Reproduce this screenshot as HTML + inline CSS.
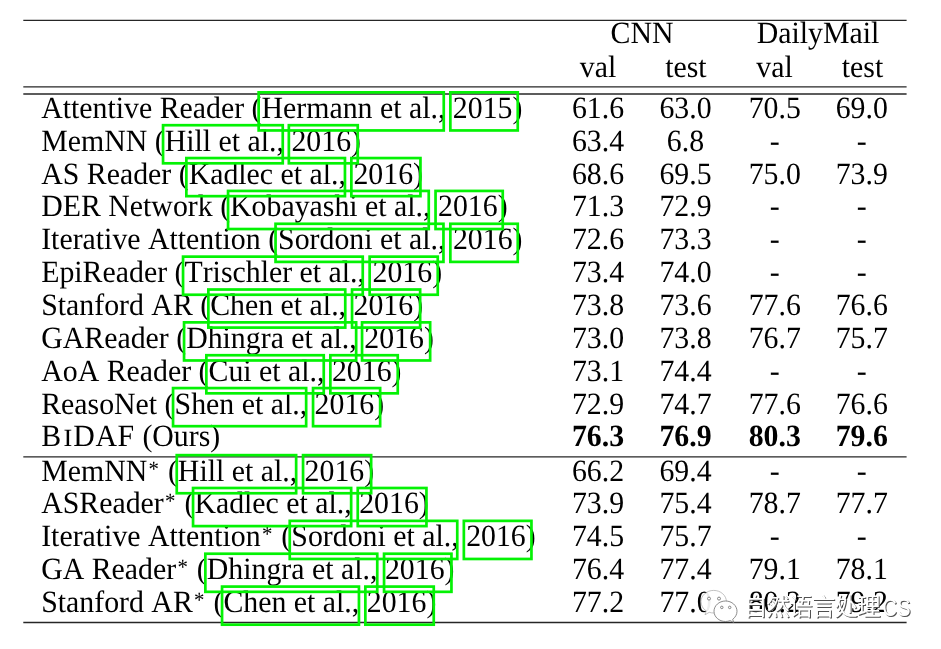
<!DOCTYPE html>
<html><head><meta charset="utf-8"><title>table</title>
<style>
html,body{margin:0;padding:0;background:#fff;}
body{width:941px;height:649px;position:relative;overflow:hidden;font-family:"Liberation Serif",serif;color:#000;font-kerning:none;}
.t,.n{position:absolute;white-space:nowrap;font-size:29.83px;line-height:30px;height:30px;text-rendering:geometricPrecision;transform:scaleY(1.035);transform-origin:0 24px;}
.n{width:120px;margin-left:-60px;text-align:center;}
.b{font-weight:bold;}
svg{position:absolute;left:0;top:0;}
sup{font-size:0.7em;vertical-align:baseline;position:relative;top:-0.25em;line-height:0;margin:0 1.6px 0 1.2px;}
.sc{font-size:0.8em;display:inline-block;margin:0 1.5px 0 2.6px;transform:scaleX(1.1);}
</style></head><body>
<div id="L" style="position:absolute;left:0;top:0;width:941px;height:649px;will-change:transform">

<div class="n" style="left:642px;top:19.00px">CNN</div>
<div class="n" style="left:818px;top:19.00px;width:200px;margin-left:-100px">DailyMail</div>
<div class="n" style="left:598px;top:53.00px;font-kerning:normal">val</div>
<div class="n" style="left:685.9px;top:53.00px;font-kerning:normal">test</div>
<div class="n" style="left:774.5px;top:53.00px;font-kerning:normal">val</div>
<div class="n" style="left:862.5px;top:53.00px;font-kerning:normal">test</div>
<div class="t" style="left:41.2px;top:94.00px">Attentive Reader (<span id="a0">Hermann et al.,</span> <span id="y0">2015</span>)</div>
<div class="n" style="left:598px;top:94.00px">61.6</div>
<div class="n" style="left:685.5px;top:94.00px">63.0</div>
<div class="n" style="left:774.8px;top:94.00px">70.5</div>
<div class="n" style="left:861.8px;top:94.00px">69.0</div>
<div class="t" style="left:41.2px;top:127.00px">MemNN (<span id="a1">Hill et al.,</span> <span id="y1">2016</span>)</div>
<div class="n" style="left:598px;top:127.00px">63.4</div>
<div class="n" style="left:685.5px;top:127.00px">6.8</div>
<div class="n" style="left:774.8px;top:127.00px">-</div>
<div class="n" style="left:861.8px;top:127.00px">-</div>
<div class="t" style="left:41.2px;top:160.00px">AS Reader (<span id="a2">Kadlec et al.,</span> <span id="y2">2016</span>)</div>
<div class="n" style="left:598px;top:160.00px">68.6</div>
<div class="n" style="left:685.5px;top:160.00px">69.5</div>
<div class="n" style="left:774.8px;top:160.00px">75.0</div>
<div class="n" style="left:861.8px;top:160.00px">73.9</div>
<div class="t" style="left:41.2px;top:192.00px">DER Network (<span id="a3">Kobayashi et al.,</span> <span id="y3">2016</span>)</div>
<div class="n" style="left:598px;top:192.00px">71.3</div>
<div class="n" style="left:685.5px;top:192.00px">72.9</div>
<div class="n" style="left:774.8px;top:192.00px">-</div>
<div class="n" style="left:861.8px;top:192.00px">-</div>
<div class="t" style="left:41.2px;top:225.00px">Iterative Attention (<span id="a4">Sordoni et al.,</span> <span id="y4">2016</span>)</div>
<div class="n" style="left:598px;top:225.00px">72.6</div>
<div class="n" style="left:685.5px;top:225.00px">73.3</div>
<div class="n" style="left:774.8px;top:225.00px">-</div>
<div class="n" style="left:861.8px;top:225.00px">-</div>
<div class="t" style="left:41.2px;top:258.00px">EpiReader (<span id="a5">Trischler et al.,</span> <span id="y5">2016</span>)</div>
<div class="n" style="left:598px;top:258.00px">73.4</div>
<div class="n" style="left:685.5px;top:258.00px">74.0</div>
<div class="n" style="left:774.8px;top:258.00px">-</div>
<div class="n" style="left:861.8px;top:258.00px">-</div>
<div class="t" style="left:41.2px;top:291.00px">Stanford AR (<span id="a6">Chen et al.,</span> <span id="y6">2016</span>)</div>
<div class="n" style="left:598px;top:291.00px">73.8</div>
<div class="n" style="left:685.5px;top:291.00px">73.6</div>
<div class="n" style="left:774.8px;top:291.00px">77.6</div>
<div class="n" style="left:861.8px;top:291.00px">76.6</div>
<div class="t" style="left:41.2px;top:324.00px">GAReader (<span id="a7">Dhingra et al.,</span> <span id="y7">2016</span>)</div>
<div class="n" style="left:598px;top:324.00px">73.0</div>
<div class="n" style="left:685.5px;top:324.00px">73.8</div>
<div class="n" style="left:774.8px;top:324.00px">76.7</div>
<div class="n" style="left:861.8px;top:324.00px">75.7</div>
<div class="t" style="left:41.2px;top:357.00px">AoA Reader (<span id="a8">Cui et al.,</span> <span id="y8">2016</span>)</div>
<div class="n" style="left:598px;top:357.00px">73.1</div>
<div class="n" style="left:685.5px;top:357.00px">74.4</div>
<div class="n" style="left:774.8px;top:357.00px">-</div>
<div class="n" style="left:861.8px;top:357.00px">-</div>
<div class="t" style="left:41.2px;top:390.00px">ReasoNet (<span id="a9">Shen et al.,</span> <span id="y9">2016</span>)</div>
<div class="n" style="left:598px;top:390.00px">72.9</div>
<div class="n" style="left:685.5px;top:390.00px">74.7</div>
<div class="n" style="left:774.8px;top:390.00px">77.6</div>
<div class="n" style="left:861.8px;top:390.00px">76.6</div>
<div class="t" style="left:41.2px;top:422.00px">B<span class="sc">I</span><span style="letter-spacing:.7px">DAF</span> (Ours)</div>
<div class="n b" style="left:598px;top:422.00px">76.3</div>
<div class="n b" style="left:685.5px;top:422.00px">76.9</div>
<div class="n b" style="left:774.8px;top:422.00px">80.3</div>
<div class="n b" style="left:861.8px;top:422.00px">79.6</div>
<div class="t" style="left:41.2px;top:457.00px">MemNN<sup>*</sup> (<span id="a11">Hill et al.,</span> <span id="y11">2016</span>)</div>
<div class="n" style="left:598px;top:457.00px">66.2</div>
<div class="n" style="left:685.5px;top:457.00px">69.4</div>
<div class="n" style="left:774.8px;top:457.00px">-</div>
<div class="n" style="left:861.8px;top:457.00px">-</div>
<div class="t" style="left:41.2px;top:489.00px">ASReader<sup>*</sup> (<span id="a12">Kadlec et al.,</span> <span id="y12">2016</span>)</div>
<div class="n" style="left:598px;top:489.00px">73.9</div>
<div class="n" style="left:685.5px;top:489.00px">75.4</div>
<div class="n" style="left:774.8px;top:489.00px">78.7</div>
<div class="n" style="left:861.8px;top:489.00px">77.7</div>
<div class="t" style="left:41.2px;top:522.00px">Iterative Attention<sup>*</sup> (<span id="a13">Sordoni et al.,</span> <span id="y13">2016</span>)</div>
<div class="n" style="left:598px;top:522.00px">74.5</div>
<div class="n" style="left:685.5px;top:522.00px">75.7</div>
<div class="n" style="left:774.8px;top:522.00px">-</div>
<div class="n" style="left:861.8px;top:522.00px">-</div>
<div class="t" style="left:41.2px;top:555.00px">GA Reader<sup>*</sup> (<span id="a14">Dhingra et al.,</span> <span id="y14">2016</span>)</div>
<div class="n" style="left:598px;top:555.00px">76.4</div>
<div class="n" style="left:685.5px;top:555.00px">77.4</div>
<div class="n" style="left:774.8px;top:555.00px">79.1</div>
<div class="n" style="left:861.8px;top:555.00px">78.1</div>
<div class="t" style="left:41.2px;top:588.00px">Stanford AR<sup>*</sup> (<span id="a15">Chen et al.,</span> <span id="y15">2016</span>)</div>
<div class="n" style="left:598px;top:588.00px">77.2</div>
<div class="n" style="left:685.5px;top:588.00px">77.0</div>
<div class="n" style="left:774.8px;top:588.00px">80.2</div>
<div class="n" style="left:861.8px;top:588.00px">79.2</div>
</div>
<svg width="941" height="649" viewBox="0 0 941 649">
<g stroke="#262626" stroke-width="1.3">
<line x1="23.3" x2="906.6" y1="20.30" y2="20.30"/>
<line x1="23.3" x2="906.6" y1="86.85" y2="86.85"/>
<line x1="23.3" x2="906.6" y1="94.00" y2="94.00"/>
<line x1="23.3" x2="906.6" y1="456.80" y2="456.80"/>
<line x1="23.3" x2="906.6" y1="622.50" y2="622.50"/>
</g>
<g fill="none" stroke="#04f204" stroke-width="2.7">
<rect x="258.65" y="92.35" width="185.10" height="38.10"/>
<rect x="450.35" y="92.35" width="67.40" height="38.10"/>
<rect x="163.05" y="125.21" width="119.70" height="38.10"/>
<rect x="288.85" y="125.21" width="68.90" height="38.10"/>
<rect x="186.35" y="158.07" width="158.60" height="38.10"/>
<rect x="351.35" y="158.07" width="69.10" height="38.10"/>
<rect x="228.05" y="190.93" width="200.70" height="38.10"/>
<rect x="435.55" y="190.93" width="67.20" height="38.10"/>
<rect x="275.55" y="223.79" width="167.90" height="38.10"/>
<rect x="450.35" y="223.79" width="67.40" height="38.10"/>
<rect x="183.05" y="256.65" width="179.70" height="38.10"/>
<rect x="369.65" y="256.65" width="68.10" height="38.10"/>
<rect x="208.35" y="289.51" width="136.90" height="38.10"/>
<rect x="352.05" y="289.51" width="68.10" height="38.10"/>
<rect x="184.05" y="322.37" width="172.10" height="38.10"/>
<rect x="362.05" y="322.37" width="68.10" height="38.10"/>
<rect x="206.35" y="355.23" width="117.40" height="38.10"/>
<rect x="330.35" y="355.23" width="67.40" height="38.10"/>
<rect x="173.05" y="388.09" width="133.10" height="38.10"/>
<rect x="313.05" y="388.09" width="67.10" height="38.10"/>
<rect x="176.75" y="455.15" width="119.40" height="38.10"/>
<rect x="303.05" y="455.15" width="68.10" height="38.10"/>
<rect x="193.05" y="488.01" width="158.10" height="38.10"/>
<rect x="357.75" y="488.01" width="68.70" height="38.10"/>
<rect x="289.75" y="520.87" width="167.50" height="38.10"/>
<rect x="463.85" y="520.87" width="67.60" height="38.10"/>
<rect x="205.35" y="553.73" width="171.90" height="38.10"/>
<rect x="384.05" y="553.73" width="67.40" height="38.10"/>
<rect x="222.05" y="586.59" width="136.90" height="38.10"/>
<rect x="365.35" y="586.59" width="68.40" height="38.10"/>
</g>
</svg>
<svg width="941" height="649" viewBox="0 0 941 649">
<g stroke-linejoin="round">
<path d="M713.7 590.4c7 0 12.7 5 12.7 11.3s-5.700 11.300-12.700 11.300c-1.600 0-3.100-.300-4.500-.700l-4.200 2.500 1.200-3.900c-3.200-2-5.200-5.400-5.200-9.200 0-6.300 5.700-11.300 12.700-11.300z" fill="#fff" fill-opacity=".93" stroke="#a8a8a8" stroke-width=".7"/>
<path d="M725.5 601c6.400 0 11.500 4.600 11.500 10.300 0 3.200-1.700 6.100-4.300 8l1 3.100-3.600-1.800c-1.400.600-3 .900-4.600.900-6.400 0-11.500-4.600-11.500-10.200s5.100-10.300 11.500-10.300z" fill="#fff" stroke="#707070" stroke-width=".8"/>
<g fill="#fff" stroke="#6a6a6a" stroke-width=".8"><circle cx="709" cy="598.6" r="1.5"/><circle cx="719" cy="598.6" r="1.5"/><circle cx="721.8" cy="607.4" r="1.25"/><circle cx="729.7" cy="607.4" r="1.25"/></g>
</g>
<g fill="#505050" font-family="'Liberation Sans', 'Noto Sans CJK SC', sans-serif" font-size="23.6">
<text x="744.70" y="616.00">自</text>
<text x="767.35" y="616.00">然</text>
<text x="790.00" y="616.00">语</text>
<text x="812.65" y="616.00">言</text>
<text x="835.30" y="616.00">处</text>
<text x="857.95" y="616.00">理</text>
</g>
<text transform="translate(883.40 616.60) scale(.93 1.13)" font-family="Liberation Sans, sans-serif" font-size="21.5" letter-spacing="0.5" fill="#505050">CS</text>
<g fill="#fff" font-family="'Liberation Sans', 'Noto Sans CJK SC', sans-serif" font-size="23.6">
<text x="743.70" y="615.00">自</text>
<text x="766.35" y="615.00">然</text>
<text x="789.00" y="615.00">语</text>
<text x="811.65" y="615.00">言</text>
<text x="834.30" y="615.00">处</text>
<text x="856.95" y="615.00">理</text>
</g>
<text transform="translate(882.40 615.60) scale(.93 1.13)" font-family="Liberation Sans, sans-serif" font-size="21.5" letter-spacing="0.5" fill="#fff">CS</text>
</svg>
</body></html>
